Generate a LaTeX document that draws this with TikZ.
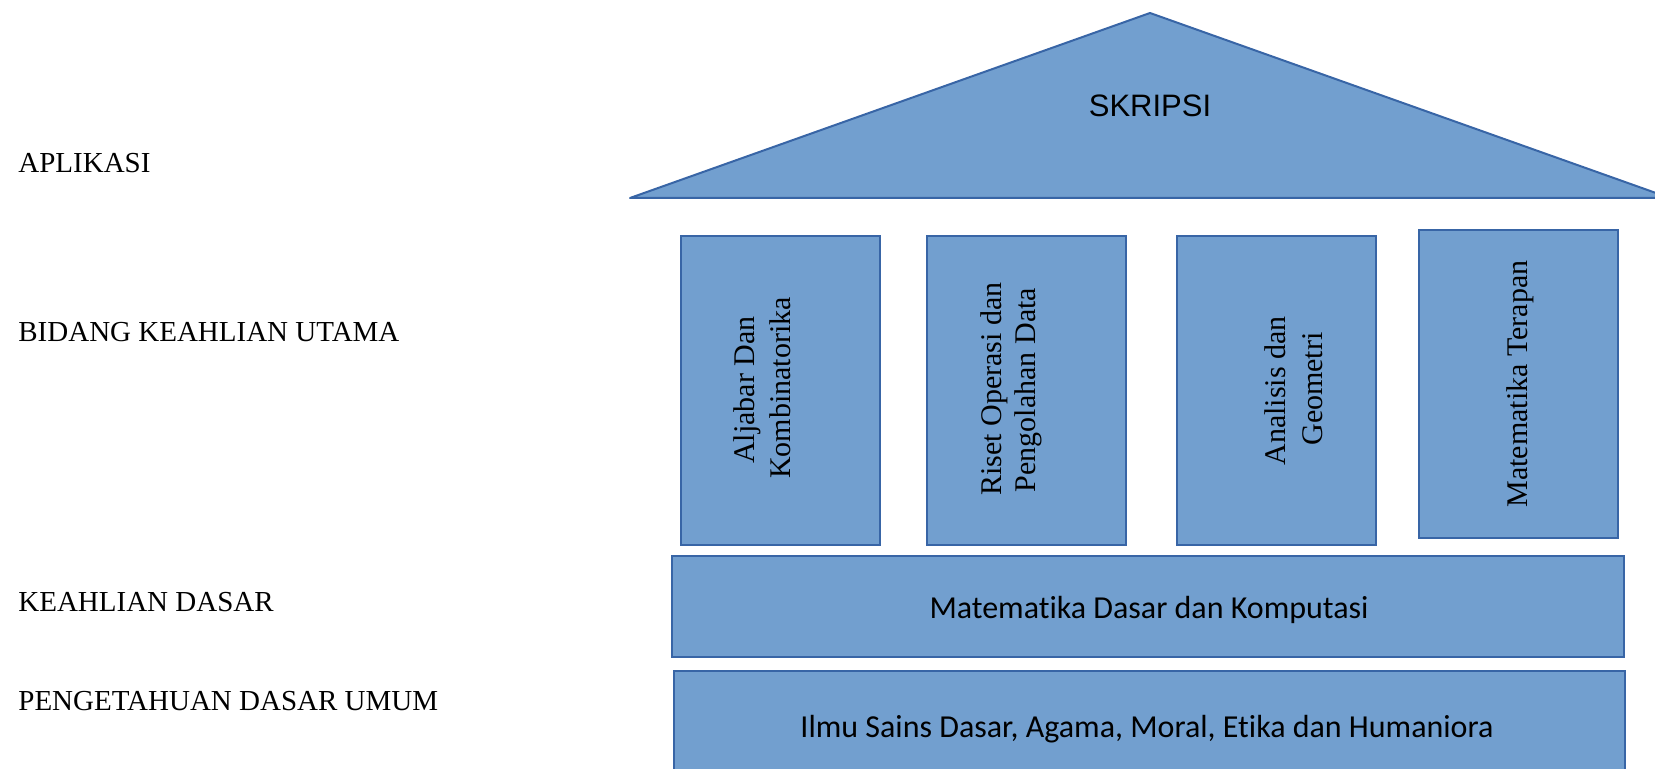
\documentclass[tikz,border=0pt]{standalone}
\usepackage{fontspec}
\setmainfont{Liberation Serif}
\newfontfamily\calfont[Ligatures=NoCommon]{Carlito}
\newfontfamily\arialfont{Liberation Sans}
\definecolor{fillc}{RGB}{114,159,207}
\definecolor{bordc}{RGB}{56,101,166}
\begin{document}
\begin{tikzpicture}[x=0.5pt,y=-0.5pt,
  blk/.style={draw=bordc, fill=fillc, line width=1pt, inner sep=0pt},
  lefttxt/.style={anchor=base west, inner sep=0pt, font=\fontsize{14.5}{17}\selectfont},
  vtxt/.style={anchor=base, rotate=90, inner sep=0pt, font=\fontsize{15}{18}\selectfont},
  htxt/.style={anchor=base, inner sep=0pt, font=\calfont\fontsize{16}{19}\selectfont}]
\useasboundingbox (0,0) rectangle (1655,769);
\begin{scope}
\clip (0,0) rectangle (1655,769);
% roof
\coordinate (apex) at (1150,13);
\coordinate (bl) at (630,198);
\coordinate (br) at (1670,198);
\draw[draw=bordc, fill=fillc, line width=1pt, line join=round] (bl) -- (apex) -- (br) -- cycle;
\node[anchor=base, inner sep=0pt, font=\arialfont\fontsize{15.5}{18}\selectfont] (skripsi) at (1150,117) {SKRIPSI};
% pillars
\node[blk, minimum width=99.5pt, minimum height=154.5pt] (p1) at (780.5,390.5) {};
\node[blk, minimum width=99.5pt, minimum height=154.5pt] (p2) at (1026.5,390.5) {};
\node[blk, minimum width=99.5pt, minimum height=154.5pt] (p3) at (1276.5,390.5) {};
\node[blk, minimum width=99.5pt, minimum height=154pt] (p4) at (1518.5,384) {};
\node[vtxt] (t1a) at (754,390) {Aljabar Dan};
\node[vtxt] (t1b) at (790,388) {Kombinatorika};
\node[vtxt] (t2a) at (1001,389) {Riset Operasi dan};
\node[vtxt] (t2b) at (1035,390) {Pengolahan Data};
\node[vtxt] (t3a) at (1285,391) {Analisis dan};
\node[vtxt] (t3b) at (1322,389) {Geometri};
\node[vtxt] (t4) at (1527,384) {Matematika Terapan};
% base layers
\node[blk, minimum width=476pt, minimum height=50.5pt] (base1) at (1148,606.5) {};
\node[blk, minimum width=475.5pt, minimum height=56pt] (base2) at (1149.5,727) {};
\node[htxt] (b1t) at (1149,619) {Matematika Dasar dan Komputasi};
\node[htxt] (b2t) at (1147,737) {Ilmu Sains Dasar, Agama, Moral, Etika dan Humaniora};
\end{scope}
% left labels
\node[lefttxt] (l1) at (18,173) {APLIKASI};
\node[lefttxt] (l2) at (18,342) {BIDANG KEAHLIAN UTAMA};
\node[lefttxt] (l3) at (18,612) {KEAHLIAN DASAR};
\node[lefttxt] (l4) at (18,711) {PENGETAHUAN DASAR UMUM};
\end{tikzpicture}
\end{document}
